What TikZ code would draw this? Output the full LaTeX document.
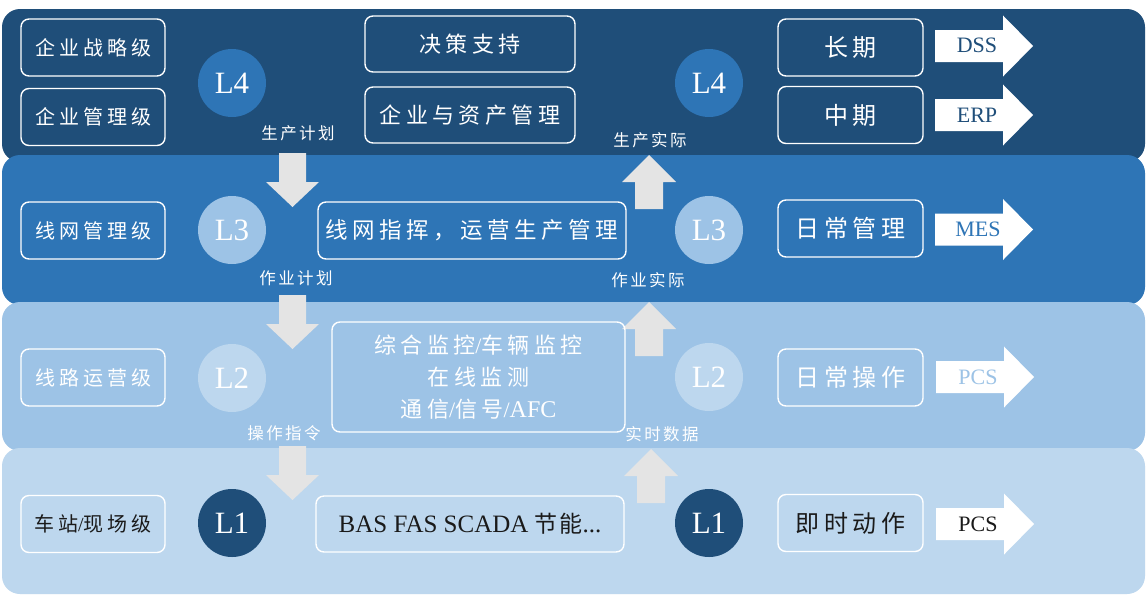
\documentclass[tikz,border=0pt]{standalone}
\usepackage{fontspec}
\setmainfont{Liberation Serif}
\newfontfamily\cjk{Noto Sans CJK SC}[LetterSpace=20]
\newfontfamily\cjktight{Noto Sans CJK SC}[LetterSpace=8]
\newfontfamily\cjklab{Noto Sans CJK SC}[LetterSpace=15]
\definecolor{bandD}{HTML}{1F4E79}
\definecolor{bandC}{HTML}{2E75B6}
\definecolor{bandB}{HTML}{9DC3E6}
\definecolor{bandA}{HTML}{BDD7EE}
\definecolor{arrgray}{HTML}{E4E4E4}
\definecolor{darktext}{HTML}{1A1A1A}
\begin{document}
\begin{tikzpicture}[x=1pt,y=-1pt,
  band/.style={rounded corners=18pt},
  box/.style={draw=white, line width=1.4pt, rounded corners=8pt, inner sep=0pt, text=white, align=center},
  lbox/.style={box, minimum width=144pt, minimum height=57pt, font=\cjk\fontsize{20}{24}\selectfont},
  rbox/.style={box, minimum width=145pt, minimum height=57pt, font=\cjk\fontsize{24}{28}\selectfont},
  circ/.style={circle, minimum size=68pt, inner sep=0pt, text=white, font=\fontsize{31}{31}\selectfont},
  glab/.style={text=white, inner sep=0pt, font=\cjklab\fontsize{16.5}{18}\selectfont},
  atext/.style={inner sep=0pt, font=\fontsize{22}{24}\selectfont},
  rarrow/.pic={\fill[white] (0,-16)--(68,-16)--(68,-30.5)--(98,0)--(68,30.5)--(68,16)--(0,16)--cycle;},
  downarr/.pic={\fill[arrgray] (-13.5,0)--(13.5,0)--(13.5,29)--(26.5,29)--(0,54)--(-26.5,29)--(-13.5,29)--cycle;},
  uparr/.pic={\fill[arrgray] (0,0)--(27,27)--(14,27)--(14,54)--(-14,54)--(-14,27)--(-27,27)--cycle;}
]
\useasboundingbox (0,0) rectangle (1147,595);
\fill[white] (0,0) rectangle (1147,595);
% bands
\fill[bandD, band] (2,9) rectangle (1145,162);
\fill[bandC, band] (2,155) rectangle (1145,305);
\fill[bandB, band] (2,302) rectangle (1145,451);
\fill[bandA, band] (2,448) rectangle (1145,594);

% gray arrows
\pic at (292.5,153) {downarr};
\pic at (292.5,295) {downarr};
\pic at (292.5,446) {downarr};
\pic at (649,155) {uparr};
\pic at (649,302) {uparr};
\pic at (651,449) {uparr};

% left boxes
\node[lbox] (s1) at (93,47.5) {企业战略级};
\node[lbox] (s2) at (93,117) {企业管理级};
\node[lbox] (s3) at (93,230.5) {线网管理级};
\node[lbox] (s4) at (93,377.5) {线路运营级};
\node[lbox, text=darktext] (s5) at (93,524) {车站{\rmfamily/}现场级};

% circles
\node[circ, fill=bandC] (c4l) at (232,83) {L4};
\node[circ, fill=bandB] (c3l) at (232,230) {L3};
\node[circ, fill=bandA] (c2l) at (232,378) {L2};
\node[circ, fill=bandD] (c1l) at (232,523) {L1};
\node[circ, fill=bandC] (c4r) at (709,83) {L4};
\node[circ, fill=bandB] (c3r) at (709,230) {L3};
\node[circ, fill=bandA] (c2r) at (709,377) {L2};
\node[circ, fill=bandD] (c1r) at (709,523) {L1};

% middle boxes
\node[box, minimum width=210pt, minimum height=56pt, font=\cjk\fontsize{22}{26}\selectfont] (m1) at (470,44) {决策支持};
\node[box, minimum width=210pt, minimum height=56pt, font=\cjk\fontsize{22}{26}\selectfont] (m2) at (470,115) {企业与资产管理};
\node[box, minimum width=308pt, minimum height=57pt, font=\cjk\fontsize{22.5}{28}\selectfont] (m3) at (472,230.5) {线网指挥，运营生产管理};
\node[box, minimum width=293pt, minimum height=110pt, font=\cjk\fontsize{22}{32}\selectfont] (m4) at (478.5,377) {综合监控{\rmfamily/}车辆监控\\在线监测\\通信{\rmfamily/}信号{\rmfamily/\fontsize{24}{32}\selectfont AFC}};
\node[box, minimum width=308pt, minimum height=56pt, text=darktext, font=\fontsize{25}{28}\selectfont] (m5) at (470,524) {BAS FAS SCADA {\cjktight\fontsize{23}{28}\selectfont 节能}...};

% right boxes
\node[rbox] (r1) at (850.5,47.5) {长期};
\node[rbox] (r2) at (850.5,115) {中期};
\node[rbox] (r3) at (850.5,228.5) {日常管理};
\node[rbox] (r4) at (850.5,377.5) {日常操作};
\node[rbox, text=darktext] (r5) at (850.5,523) {即时动作};

% right arrows
\pic at (935,46) {rarrow};
\pic at (935,115) {rarrow};
\pic at (935,229.5) {rarrow};
\pic at (936,377) {rarrow};
\pic at (936,524) {rarrow};
\node[atext, text=bandD] (a1) at (977,45) {DSS};
\node[atext, text=bandD] (a2) at (977,115) {ERP};
\node[atext, text=bandC] (a3) at (978,229) {MES};
\node[atext, text=bandB] (a4) at (978,377) {PCS};
\node[atext, text=darktext] (a5) at (978,524) {PCS};

% labels
\node[glab] (l1) at (298,133) {生产计划};
\node[glab] (l2) at (650,140) {生产实际};
\node[glab] (l3) at (296,278) {作业计划};
\node[glab] (l4) at (648,280) {作业实际};
\node[glab] (l5) at (284,433) {操作指令};
\node[glab] (l6) at (662,434) {实时数据};
\end{tikzpicture}
\end{document}
